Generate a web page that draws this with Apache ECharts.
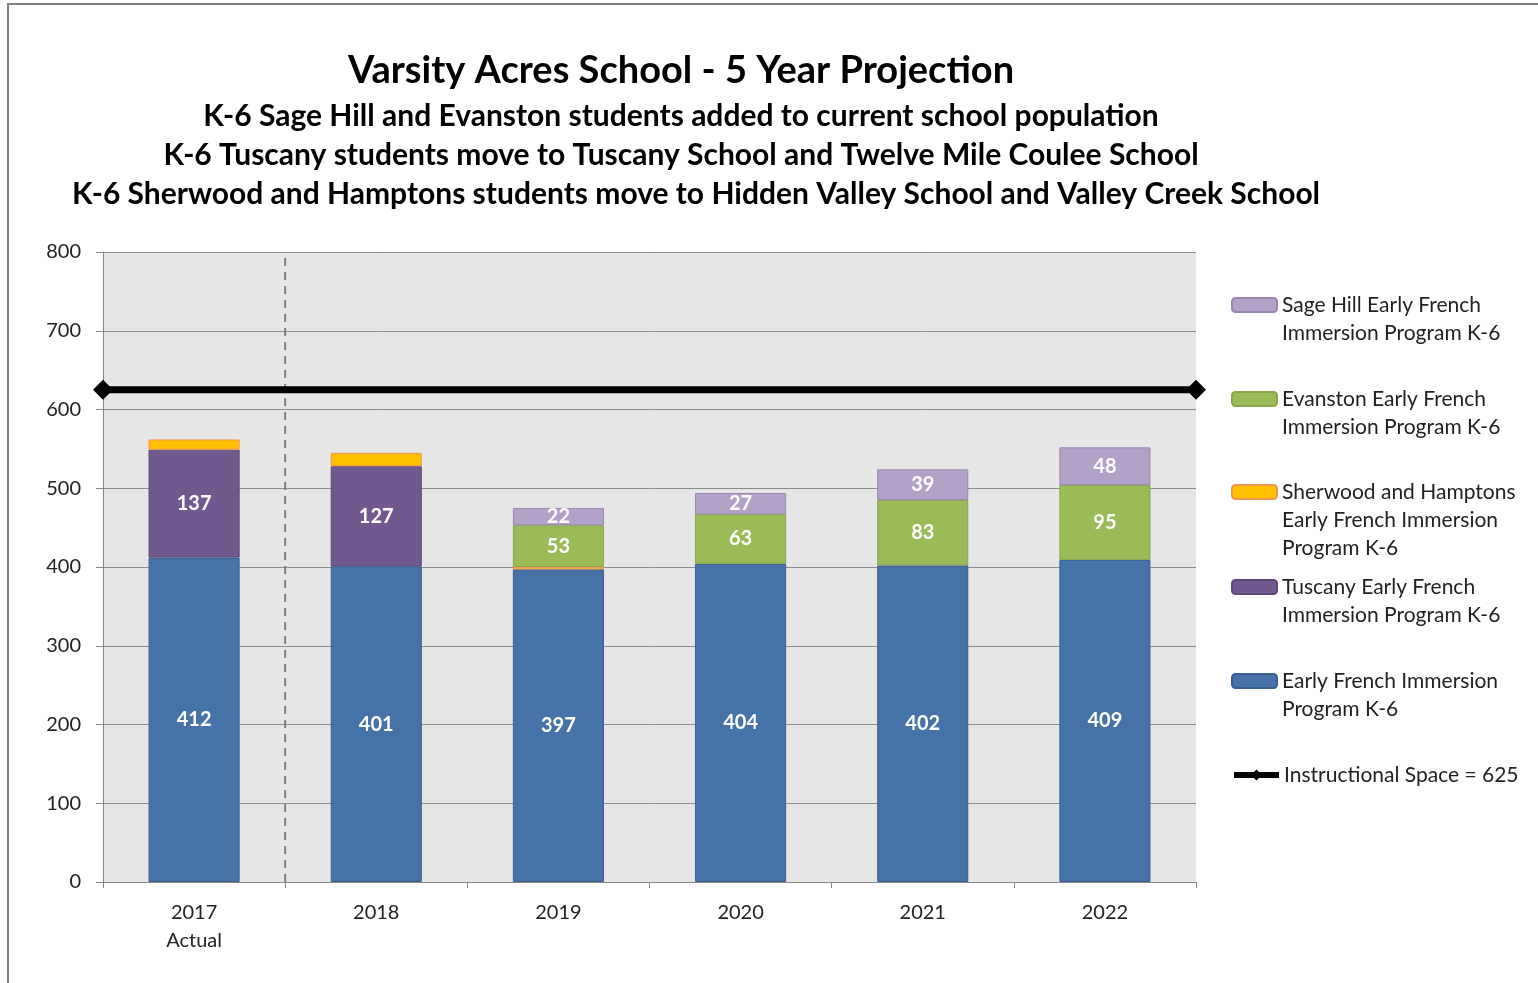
<!DOCTYPE html>
<html>
<head>
<meta charset="utf-8">
<title>Varsity Acres School - 5 Year Projection</title>
<script src="https://cdn.jsdelivr.net/npm/echarts@6/dist/echarts.min.js"></script>
<style>
  html, body { margin: 0; padding: 0; background: #fff; }
  #main { width: 1538px; height: 983px; }
</style>
</head>
<body>
<div id="main"></div>
<script>
// data
var categories = ['2017\nActual', '2018', '2019', '2020', '2021', '2022'];
var earlyFrench = [412, 401, 397, 404, 402, 409];
var tuscany = [137, 127, 0, 0, 0, 0];
var sherwood = [13, 17, 3, 0, 0, 0];
var evanston = [0, 0, 53, 63, 83, 95];
var sageHill = [0, 0, 22, 27, 39, 48];
var instructionalSpace = 625;
var actualYears = 1; // dashed divider after the actual year

var FONT = 'Lato';

var names = {
    sage: 'Sage Hill Early French Immersion Program K-6',
    evan: 'Evanston Early French Immersion Program K-6',
    sher: 'Sherwood and Hamptons Early French Immersion Program K-6',
    tusc: 'Tuscany Early French Immersion Program K-6',
    early: 'Early French Immersion Program K-6',
    space: 'Instructional Space = 625'
};
// wrapped legend text, as in the original
var legendLines = {};
legendLines[names.sage] = ['Sage Hill Early French', 'Immersion Program K-6'];
legendLines[names.evan] = ['Evanston Early French', 'Immersion Program K-6'];
legendLines[names.sher] = ['Sherwood and Hamptons', 'Early French Immersion', 'Program K-6'];
legendLines[names.tusc] = ['Tuscany Early French', 'Immersion Program K-6'];
legendLines[names.early] = ['Early French Immersion', 'Program K-6'];
legendLines[names.space] = ['Instructional Space = ' + instructionalSpace];

function noZero(arr) {
    return arr.map(function (v) { return v === 0 ? '-' : v; });
}

function barSeries(name, data, color, border, showLabel) {
    return {
        name: name,
        type: 'bar',
        stack: 'total',
        barWidth: '50%',
        data: noZero(data),
        itemStyle: { color: color, borderColor: border, borderWidth: 1 },
        label: {
            show: showLabel,
            position: 'inside',
            color: '#fff',
            fontFamily: FONT,
            fontWeight: 'bold',
            fontSize: 20
        }
    };
}

var LH = 28;
// one legend per item so each can sit where the original puts it
function legendAt(name, iconY) {
    var n = legendLines[name].length;
    return {
        data: [name],
        left: 1231,
        top: iconY - (2 * n - 1) * LH / 2,
        orient: 'vertical',
        padding: 0,
        itemWidth: 45,
        itemHeight: 14,
        selectedMode: false,
        lineStyle: { width: 6 },
        formatter: function (nm) {
            var lines = legendLines[nm];
            var pad = '';
            for (var i = 1; i < lines.length; i++) pad += ' \n';
            return pad + lines.join('\n');
        },
        textStyle: { fontFamily: FONT, fontSize: 21, lineHeight: LH, color: '#222' }
    };
}

var myChart = echarts.init(document.getElementById('main'));

myChart.setOption({
    backgroundColor: '#fff',
    animation: false,
    title: [
        { text: 'Varsity Acres School - 5 Year Projection', left: 676, top: 47, textAlign: 'center',
          textStyle: { fontFamily: FONT, fontWeight: 'bold', fontSize: 38, color: '#000' } },
        { text: 'K-6 Sage Hill and Evanston students added to current school population', left: 676, top: 96, textAlign: 'center',
          textStyle: { fontFamily: FONT, fontWeight: 'bold', fontSize: 30, color: '#000' } },
        { text: 'K-6 Tuscany students move to Tuscany School and Twelve Mile Coulee School', left: 676, top: 135, textAlign: 'center',
          textStyle: { fontFamily: FONT, fontWeight: 'bold', fontSize: 30, color: '#000' } },
        { text: 'K-6 Sherwood and Hamptons students move to Hidden Valley School and Valley Creek School', left: 691, top: 174, textAlign: 'center',
          textStyle: { fontFamily: FONT, fontWeight: 'bold', fontSize: 30, color: '#000' } }
    ],
    legend: [
        legendAt(names.sage, 305),
        legendAt(names.evan, 399),
        legendAt(names.sher, 492),
        legendAt(names.tusc, 587),
        legendAt(names.early, 681),
        legendAt(names.space, 775)
    ],
    graphic: [{
        type: 'polyline',
        shape: { points: [[8, 983], [8, 4], [1538, 4]] },
        style: { stroke: '#808080', lineWidth: 2, fill: null },
        silent: true
    }],
    grid: {
        left: 103, right: 342, top: 252, bottom: 101,
        show: true, backgroundColor: '#e6e6e6', borderWidth: 0
    },
    xAxis: [{
        type: 'category',
        data: categories,
        axisLine: { lineStyle: { color: '#868686', width: 1 } },
        axisTick: { show: true, length: 6, lineStyle: { color: '#868686' } },
        axisLabel: { color: '#222', fontFamily: FONT, fontSize: 20, lineHeight: 28, margin: 17 }
    }, {
        type: 'value', min: 0, max: 1, show: false
    }],
    yAxis: {
        type: 'value',
        min: 0,
        max: 800,
        interval: 100,
        axisLine: { show: true, lineStyle: { color: '#868686', width: 1 } },
        axisTick: { show: true, length: 7, lineStyle: { color: '#868686' } },
        axisLabel: { color: '#222', fontFamily: FONT, fontSize: 20, margin: 22 },
        splitLine: { lineStyle: { color: '#8c8c8c', width: 1 } }
    },
    series: [
        barSeries(names.early, earlyFrench, '#4572a7', '#3a5f8c', true),
        barSeries(names.tusc, tuscany, '#71588f', '#5c4776', true),
        barSeries(names.sher, sherwood, '#ffc000', '#f7964a', false),
        barSeries(names.evan, evanston, '#9bbb59', '#89a54e', true),
        barSeries(names.sage, sageHill, '#b3a2c7', '#9a85b3', true),
        {
            name: 'divider',
            type: 'line',
            xAxisIndex: 1,
            data: [[actualYears / categories.length, 0], [actualYears / categories.length, 800]],
            symbol: 'none',
            silent: true,
            lineStyle: { color: '#7f7f7f', width: 2, type: [8, 6] },
            z: 1
        },
        {
            name: names.space,
            type: 'line',
            xAxisIndex: 1,
            data: [[0, instructionalSpace], [1, instructionalSpace]],
            symbol: 'diamond',
            symbolSize: 20,
            clip: false,
            itemStyle: { color: '#000' },
            lineStyle: { color: '#000', width: 7 },
            z: 5
        }
    ]
});
</script>
</body>
</html>
